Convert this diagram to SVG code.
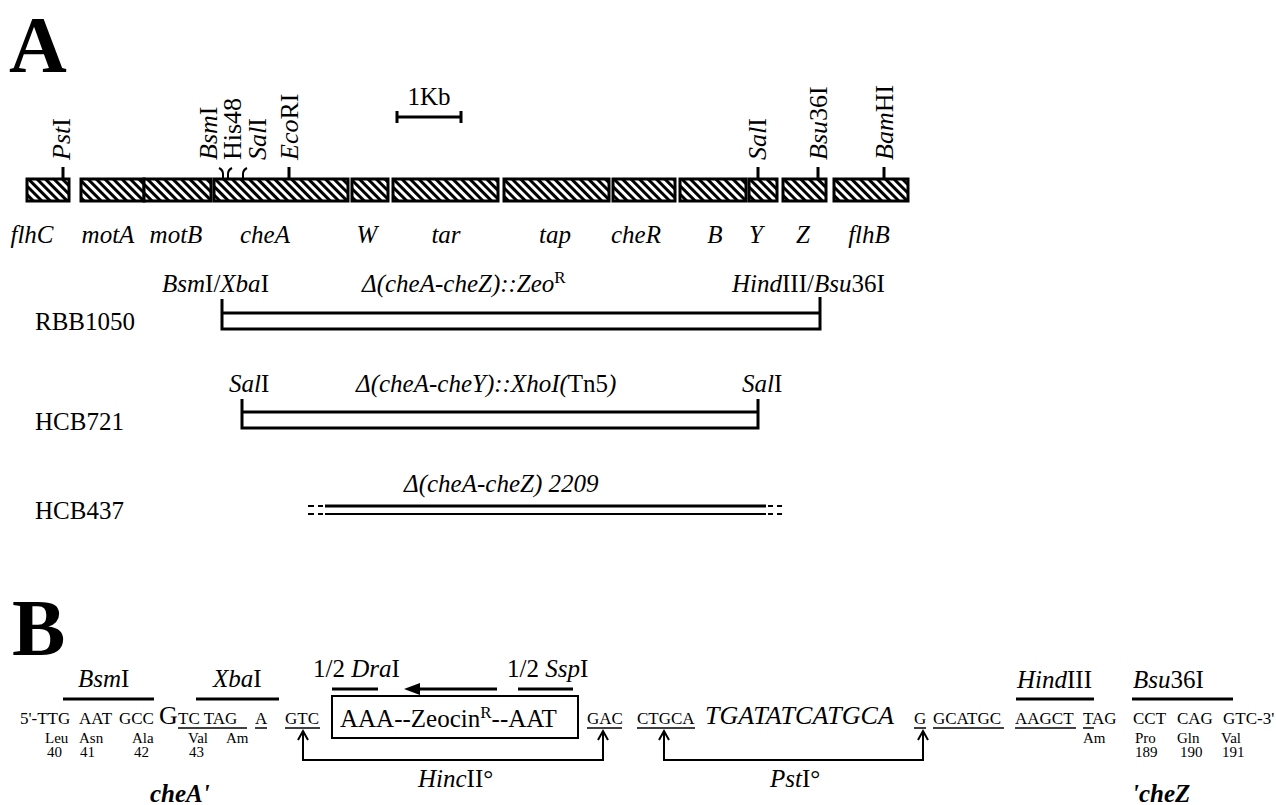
<svg xmlns="http://www.w3.org/2000/svg" width="1276" height="805" viewBox="0 0 1276 805">
<style>
text{font-family:"Liberation Serif","Times New Roman",serif;fill:#000}
.it{font-style:italic}
.lab{font-size:25px}
.vl{font-size:26px}
.gl{font-size:25px;font-style:italic;text-anchor:middle}
.sc{font-size:17px}
.aa{font-size:15px}
.big{font-size:80px;font-weight:bold}
.gene{fill:url(#hatch);stroke:#000;stroke-width:3}
.ln{stroke:#000;stroke-width:3;fill:none}
.thin{stroke:#000;stroke-width:2;fill:none}
.ul{stroke:#000;stroke-width:1.5}
.bi{font-size:25px;font-weight:bold;font-style:italic}
</style>
<defs>
<pattern id="hatch" patternUnits="userSpaceOnUse" width="6" height="6" patternTransform="rotate(-45)">
<rect x="0" y="0" width="6" height="6" fill="#fff"/>
<rect x="0" y="0" width="3" height="6" fill="#000"/>
</pattern>
</defs>

<text class="big" x="9" y="72">A</text>

<g id="scale">
<text x="429" y="105" font-size="25" text-anchor="middle">1Kb</text>
<path class="ln" d="M397,117 H461 M397,111 V123 M461,111 V123"/>
</g>

<g id="genes">
<rect class="gene" x="27" y="179" width="42" height="22"/>
<rect class="gene" x="81" y="179" width="63" height="22"/>
<rect class="gene" x="144" y="179" width="67" height="22"/>
<rect class="gene" x="214" y="179" width="134" height="22"/>
<rect class="gene" x="352" y="179" width="36" height="22"/>
<rect class="gene" x="393" y="179" width="105" height="22"/>
<rect class="gene" x="504" y="179" width="105" height="22"/>
<rect class="gene" x="613" y="179" width="62" height="22"/>
<rect class="gene" x="680" y="179" width="66" height="22"/>
<rect class="gene" x="749" y="179" width="28" height="22"/>
<rect class="gene" x="783" y="179" width="43" height="22"/>
<rect class="gene" x="834" y="179" width="74" height="22"/>
</g>

<g id="gene-labels">
<text class="gl" x="32" y="243">flhC</text>
<text class="gl" x="108" y="243">motA</text>
<text class="gl" x="176" y="243">motB</text>
<text class="gl" x="265" y="243">cheA</text>
<text class="gl" x="367" y="243">W</text>
<text class="gl" x="446" y="243">tar</text>
<text class="gl" x="555" y="243">tap</text>
<text class="gl" x="636" y="243">cheR</text>
<text class="gl" x="715" y="243">B</text>
<text class="gl" x="756" y="243">Y</text>
<text class="gl" x="803" y="243">Z</text>
<text class="gl" x="869" y="243">flhB</text>
</g>

<g id="sites">
<path class="ln" d="M63,167 V178 M289,167 V178 M758,167 V178 M818,167 V178 M884,167 V178"/>
<path class="thin" d="M223,178 V174 Q223,170 219,168 M228,178 V174 Q228,170 232,168 M243,178 V174 Q243,170 247,168"/>
<text class="vl" transform="translate(70,160) rotate(-90)"><tspan class="it">Pst</tspan>I</text>
<text class="vl" transform="translate(217,160) rotate(-90)"><tspan class="it">Bsm</tspan>I</text>
<text class="vl" transform="translate(241,160) rotate(-90)">His48</text>
<text class="vl" transform="translate(266,160) rotate(-90)"><tspan class="it">Sal</tspan>I</text>
<text class="vl" transform="translate(298,160) rotate(-90)"><tspan class="it">Eco</tspan>RI</text>
<text class="vl" transform="translate(766,160) rotate(-90)"><tspan class="it">Sal</tspan>I</text>
<text class="vl" transform="translate(827,160) rotate(-90)"><tspan class="it">Bsu</tspan>36I</text>
<text class="vl" transform="translate(893,160) rotate(-90)"><tspan class="it">Bam</tspan>HI</text>
</g>

<g id="RBB1050">
<text class="lab" x="35" y="330">RBB1050</text>
<text class="lab" x="162" y="292"><tspan class="it">Bsm</tspan>I/<tspan class="it">Xba</tspan>I</text>
<text class="lab it" x="362" y="292">Δ(cheA-cheZ)::Zeo<tspan font-style="normal" font-size="17" dy="-9">R</tspan></text>
<text class="lab" x="732" y="292"><tspan class="it">Hind</tspan>III/<tspan class="it">Bsu</tspan>36I</text>
<path class="ln" d="M222,299 V329 H820 V297 M222,313 H820"/>
</g>

<g id="HCB721">
<text class="lab" x="35" y="430">HCB721</text>
<text class="lab" x="229" y="392"><tspan class="it">Sal</tspan>I</text>
<text class="lab it" x="356" y="392">Δ(cheA-cheY)::XhoI(<tspan font-style="normal">Tn5</tspan>)</text>
<text class="lab" x="742" y="392"><tspan class="it">Sal</tspan>I</text>
<path class="ln" d="M242,399 V428 H758 V399 M242,412 H758"/>
</g>

<g id="HCB437">
<text class="lab" x="35" y="519">HCB437</text>
<text class="lab it" x="404" y="492">Δ(cheA-cheZ) 2209</text>
<path class="ln" d="M325,506 H766"/>
<path class="thin" d="M325,514 H766"/>
<path class="thin" d="M308,506 H314 M318,506 H323 M308,514 H314 M318,514 H323 M768,506 H773 M777,506 H782 M768,514 H773 M777,514 H782"/>
</g>

<text class="big" x="12" y="655">B</text>

<g id="site-labels-B">
<text class="lab" x="78" y="687"><tspan class="it">Bsm</tspan>I</text>
<path class="ln" d="M63,699 H154"/>
<text class="lab" x="213" y="687"><tspan class="it">Xba</tspan>I</text>
<path class="ln" d="M196,699 H279"/>
<text class="lab" x="313" y="677">1/2 <tspan class="it">Dra</tspan>I</text>
<path class="ln" d="M332,689 H378"/>
<path class="ln" d="M497,689 H418"/>
<path d="M404,689 L420,683 L420,695 Z" fill="#000"/>
<text class="lab" x="507" y="677">1/2 <tspan class="it">Ssp</tspan>I</text>
<path class="ln" d="M518,689 H573"/>
<text class="lab" x="1017" y="688"><tspan class="it">Hind</tspan>III</text>
<path class="ln" d="M1016,699 H1094"/>
<text class="lab" x="1133" y="688"><tspan class="it">Bsu</tspan>36I</text>
<path class="ln" d="M1132,699 H1233"/>
</g>

<g id="sequence">
<text class="sc" x="20" y="724">5'-TTG</text>
<text class="sc" x="79" y="724">AAT</text>
<text class="sc" x="119" y="724">GCC</text>
<text x="159" y="724" font-size="26">G</text>
<text class="sc" x="178" y="724">TC TAG</text>
<path class="ul" d="M178,728 H247"/>
<text class="sc" x="255" y="724">A</text>
<path class="ul" d="M255,728 H267"/>
<text class="sc" x="285" y="724">GTC</text>
<path class="ul" d="M285,728 H320"/>
<g id="zeocin">
<rect x="332" y="696" width="246" height="42" fill="none" stroke="#000" stroke-width="2"/>
<text x="340" y="727" font-size="25">AAA--Zeocin<tspan font-size="17" dy="-9">R</tspan><tspan dy="9">--AAT</tspan></text>
</g>
<text class="sc" x="587" y="724">GAC</text>
<path class="ul" d="M587,728 H622"/>
<text class="sc" x="637" y="724">CTGCA</text>
<path class="ul" d="M637,728 H695"/>
<text class="it" x="705" y="724" font-size="26">TGATATCATGCA</text>
<text class="sc" x="914" y="724">G</text>
<path class="ul" d="M914,728 H926"/>
<text class="sc" x="933" y="724">GCATGC</text>
<path class="ul" d="M933,728 H1004"/>
<text class="sc" x="1015" y="724">AAGCT</text>
<path class="ul" d="M1015,728 H1076"/>
<text class="sc" x="1083" y="724">TAG</text>
<path class="ul" d="M1083,728 H1094"/>
<text class="sc" x="1133" y="724">CCT</text>
<text class="sc" x="1177" y="724">CAG</text>
<text class="sc" x="1223" y="724">GTC-3'</text>
</g>

<g id="aminoacids">
<text class="aa" x="45" y="743">Leu</text>
<text class="aa" x="79" y="743">Asn</text>
<text class="aa" x="132" y="743">Ala</text>
<text class="aa" x="188" y="743">Val</text>
<text class="aa" x="226" y="743">Am</text>
<text class="aa" x="47" y="757">40</text>
<text class="aa" x="80" y="757">41</text>
<text class="aa" x="134" y="757">42</text>
<text class="aa" x="189" y="757">43</text>
<text class="aa" x="1083" y="743">Am</text>
<text class="aa" x="1135" y="743">Pro</text>
<text class="aa" x="1177" y="743">Gln</text>
<text class="aa" x="1221" y="743">Val</text>
<text class="aa" x="1135" y="757">189</text>
<text class="aa" x="1180" y="757">190</text>
<text class="aa" x="1222" y="757">191</text>
<text class="bi" x="150" y="802">cheA'</text>
<text class="bi" x="1132" y="802">'cheZ</text>
</g>

<g id="connectors">
<path class="thin" d="M303,732 V760 H603 V732"/>
<path class="thin" d="M298,740 L303,731 L308,740 M598,740 L603,731 L608,740"/>
<path class="thin" d="M664,732 V760 H923 V732"/>
<path class="thin" d="M659,740 L664,731 L669,740 M918,740 L923,731 L928,740"/>
<text class="lab" x="418" y="787"><tspan class="it">Hinc</tspan>II°</text>
<text class="lab" x="770" y="787"><tspan class="it">Pst</tspan>I°</text>
</g>
</svg>
